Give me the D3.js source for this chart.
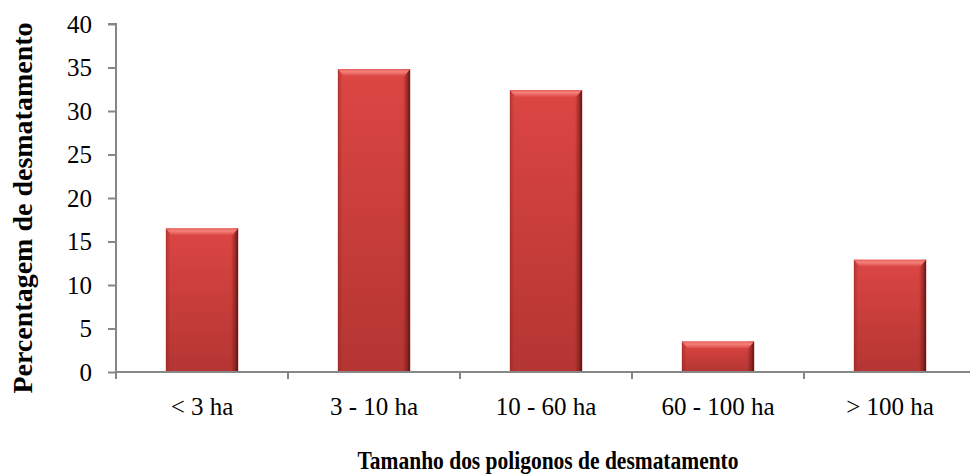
<!DOCTYPE html>
<html>
<head>
<meta charset="utf-8">
<script src="https://cdn.jsdelivr.net/npm/d3@7"></script>
<style>
  html, body { margin: 0; padding: 0; background: #fff; }
  svg { display: block; }
</style>
</head>
<body>
<svg id="chart" width="970" height="475"></svg>
<script>
// Percentage of deforestation by polygon size class
const categories = ["< 3 ha", "3 - 10 ha", "10 - 60 ha", "60 - 100 ha", "> 100 ha"];
const values = [16.5, 34.8, 32.4, 3.5, 12.9];
const yTicks = [0, 5, 10, 15, 20, 25, 30, 35, 40];

const svg = d3.select("#chart");
const margin = { left: 116, top: 24, bottom: 372, right: 976 };
const serif = "'Liberation Serif', 'Times New Roman', serif";

const x = d3.scaleBand()
  .domain(categories)
  .range([margin.left, margin.right])
  .paddingInner(0.58)
  .paddingOuter(0.29);

const y = d3.scaleLinear().domain([0, 40]).range([margin.bottom, margin.top]);

const defs = svg.append("defs");
const gv = defs.append("linearGradient").attr("id", "barFill")
  .attr("x1", 0).attr("y1", 0).attr("x2", 0).attr("y2", 1);
gv.append("stop").attr("offset", "0%").attr("stop-color", "#dc4643");
gv.append("stop").attr("offset", "100%").attr("stop-color", "#b43532");

const gh = defs.append("linearGradient").attr("id", "barSides")
  .attr("x1", 0).attr("y1", 0).attr("x2", 1).attr("y2", 0);
gh.append("stop").attr("offset", "0%").attr("stop-color", "#8e2420").attr("stop-opacity", 0.55);
gh.append("stop").attr("offset", "6%").attr("stop-color", "#8e2420").attr("stop-opacity", 0);
gh.append("stop").attr("offset", "90%").attr("stop-color", "#6a1614").attr("stop-opacity", 0);
gh.append("stop").attr("offset", "95%").attr("stop-color", "#6a1614").attr("stop-opacity", 0.45);
gh.append("stop").attr("offset", "100%").attr("stop-color", "#5a1210").attr("stop-opacity", 0.95);

const gt = defs.append("linearGradient").attr("id", "barTop")
  .attr("x1", 0).attr("y1", 0).attr("x2", 0).attr("y2", 1);
gt.append("stop").attr("offset", "0%").attr("stop-color", "#e8605b");
gt.append("stop").attr("offset", "35%").attr("stop-color", "#f3817b");
gt.append("stop").attr("offset", "100%").attr("stop-color", "#dc4643");

// Bars
const bars = svg.append("g").selectAll("g").data(values).join("g");
bars.append("rect")
  .attr("x", (d, i) => x(categories[i]))
  .attr("y", d => y(d))
  .attr("width", x.bandwidth())
  .attr("height", d => y(0) - y(d))
  .attr("fill", "url(#barFill)");
bars.append("rect")
  .attr("x", (d, i) => x(categories[i]))
  .attr("y", d => y(d))
  .attr("width", x.bandwidth())
  .attr("height", d => y(0) - y(d))
  .attr("fill", "url(#barSides)");
// top bevel highlight
bars.append("path")
  .attr("d", (d, i) => {
    const x0 = x(categories[i]), x1 = x0 + x.bandwidth(), t = y(d), h = 7;
    return `M${x0},${t}L${x1},${t}L${x1 - 6},${t + h}L${x0 + 6},${t + h}Z`;
  })
  .attr("fill", "url(#barTop)");

// Y axis
const yAxis = svg.append("g")
  .attr("transform", `translate(${margin.left},0)`)
  .call(d3.axisLeft(y).tickValues(yTicks).tickSize(8).tickPadding(16).tickFormat(d3.format("d")));
yAxis.select(".domain").attr("d", `M-8,${y(40)}H0V${y(0)}`);

// X axis
const xAxis = svg.append("g")
  .attr("transform", `translate(0,${margin.bottom})`)
  .call(d3.axisBottom(x).tickSize(0).tickPadding(25));
xAxis.select(".domain").attr("d", `M${margin.left},0H${margin.right}`);
const bounds = d3.range(categories.length + 1).map(i => margin.left + i * x.step());
xAxis.selectAll(".sep").data(bounds).join("line")
  .attr("class", "sep")
  .attr("x1", d => d).attr("x2", d => d)
  .attr("y1", 0).attr("y2", 7);

svg.selectAll(".domain, .tick line, .sep")
  .attr("stroke", "#878787").attr("stroke-width", 2);
svg.selectAll(".tick text")
  .attr("font-family", serif)
  .attr("font-size", 25)
  .attr("fill", "#000");

// Axis titles
svg.append("text")
  .attr("transform", `translate(32,${(margin.top + margin.bottom) / 2 + 10}) rotate(-90)`)
  .attr("text-anchor", "middle")
  .attr("font-family", serif)
  .attr("font-weight", "bold")
  .attr("font-size", 28)
  .text("Percentagem de desmatamento");

svg.append("text")
  .attr("x", 548)
  .attr("y", 469)
  .attr("text-anchor", "middle")
  .attr("font-family", serif)
  .attr("font-weight", "bold")
  .attr("font-size", 26)
  .attr("textLength", 381)
  .attr("lengthAdjust", "spacingAndGlyphs")
  .text("Tamanho dos poligonos de desmatamento");
</script>
</body>
</html>
